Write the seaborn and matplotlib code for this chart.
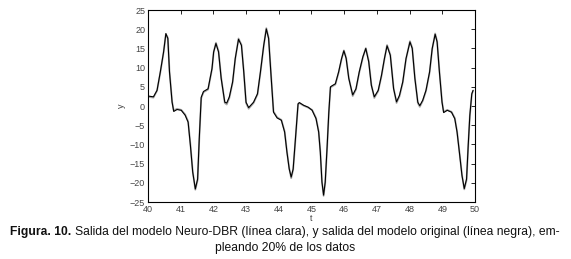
import numpy as np
import pandas as pd
import seaborn as sns
from matplotlib import pyplot as plt

# tiempo y salidas
t = [40.02, 40.17, 40.28, 40.38, 40.48, 40.55, 40.61, 40.66, 40.74, 40.79,
     40.89, 41.02, 41.14, 41.23, 41.30, 41.37, 41.45, 41.52, 41.57, 41.63,
     41.70, 41.84, 41.96, 42.01, 42.08, 42.16, 42.24, 42.35, 42.41, 42.49,
     42.59, 42.67, 42.77, 42.86, 42.93, 43.00, 43.08, 43.23, 43.35, 43.44,
     43.54, 43.62, 43.69, 43.77, 43.84, 43.95, 44.08, 44.18, 44.25, 44.32,
     44.38, 44.44, 44.51, 44.59, 44.63, 44.76, 44.90, 45.02, 45.14, 45.22,
     45.27, 45.32, 45.37, 45.42, 45.48, 45.53, 45.58, 45.63, 45.73, 45.83,
     45.92, 45.99, 46.06, 46.14, 46.26, 46.36, 46.46, 46.57, 46.66, 46.75,
     46.83, 46.92, 47.04, 47.14, 47.23, 47.31, 47.41, 47.51, 47.60, 47.69,
     47.79, 47.89, 48.01, 48.08, 48.16, 48.25, 48.31, 48.40, 48.50, 48.61,
     48.69, 48.78, 48.84, 48.91, 48.99, 49.04, 49.15, 49.28, 49.38, 49.45,
     49.52, 49.60, 49.67, 49.74, 49.79, 49.84, 49.90, 49.94]

y_original = [2.6, 2.4, 4.1, 8.9, 14.1, 18.9, 17.6, 8.9, 1.0, -1.4,
              -0.9, -1.1, -2.4, -4.2, -10.3, -17.2, -21.6, -19.0, -8.5, 2.3,
              3.8, 4.5, 9.8, 14.1, 16.3, 14.1, 7.2, 1.0, 0.8, 2.4,
              6.3, 12.4, 17.4, 15.8, 8.9, 1.0, -0.4, 1.0, 3.2, 8.9,
              15.8, 20.1, 17.6, 7.2, -1.6, -3.1, -3.7, -6.8, -12.0, -16.4,
              -18.5, -16.4, -8.5, 0.6, 0.9, 0.2, -0.3, -1.1, -3.3, -6.8,
              -12.0, -19.8, -23.2, -19.8, -10.3, -1.6, 5.0, 5.3, 5.8, 8.9,
              12.4, 14.4, 12.4, 7.2, 2.9, 4.5, 8.9, 12.8, 15.0, 11.5,
              5.4, 2.4, 4.1, 8.0, 12.4, 15.7, 13.2, 4.5, 1.1, 2.8,
              6.3, 12.4, 16.7, 15.0, 7.2, 1.0, 0.1, 1.5, 4.1, 8.9,
              15.0, 18.7, 16.7, 8.9, 1.0, -1.7, -1.1, -1.6, -3.3, -6.8,
              -12.0, -18.1, -21.5, -19.0, -10.3, -2.4, 3.2, 4.1]

y_neuro = [2.4, 2.2, 4.0, 8.7, 14.0, 18.7, 17.8, 9.2, 1.2, -1.2,
           -0.7, -1.0, -2.2, -4.0, -10.0, -17.0, -21.8, -19.3, -8.8, 2.0,
           3.6, 4.3, 9.6, 14.0, 16.5, 14.3, 7.5, 0.8, 0.4, 2.1,
           6.1, 12.2, 17.6, 16.0, 9.2, 0.8, -0.7, 0.8, 3.0, 8.7,
           15.6, 20.3, 17.8, 7.5, -1.4, -2.9, -3.6, -6.6, -11.8, -16.2,
           -18.8, -16.6, -8.8, 0.4, 0.8, 0.1, -0.4, -1.0, -3.1, -6.6,
           -11.8, -19.6, -23.4, -20.0, -10.6, -1.9, 4.8, 5.1, 5.6, 8.7,
           12.2, 14.5, 12.6, 7.4, 2.6, 4.3, 8.7, 12.6, 15.1, 11.8,
           5.6, 2.1, 3.9, 7.8, 12.2, 15.9, 13.4, 4.7, 0.8, 2.5,
           6.1, 12.2, 16.9, 15.2, 7.5, 0.8, -0.2, 1.3, 3.9, 8.7,
           14.8, 18.9, 16.9, 9.2, 1.2, -1.5, -1.0, -1.5, -3.1, -6.6,
           -11.8, -17.9, -21.7, -19.3, -10.6, -2.6, 3.0, 4.0]

x_ticks = [40, 41, 42, 43, 44, 45, 46, 47, 48, 49, 50]
y_ticks = [-25, -20, -15, -10, -5, 0, 5, 10, 15, 20, 25]

df = pd.DataFrame({"t": t, "original": y_original, "neuro": y_neuro})

sns.set_style("white")
plt.rcParams['font.family'] = ['Liberation Sans', 'DejaVu Sans']

fig = plt.figure(figsize=(5.71, 2.59), dpi=100)
ax = fig.add_axes([0.259, 0.22, 0.573, 0.741])

sns.lineplot(data=df, x="t", y="neuro", ax=ax, color="#a8a8a8", linewidth=1.3)
sns.lineplot(data=df, x="t", y="original", ax=ax, color="black", linewidth=0.8)

ax.set_xlim(40, 50)
ax.set_ylim(-25, 25)
ax.set_xticks(x_ticks)
ax.set_yticks(y_ticks)
ax.tick_params(direction="in", length=3, width=0.6, top=True, right=True,
               labelsize=6.5, labelcolor="#444444", color="black", pad=2)
for sp in ax.spines.values():
    sp.set_color("black")
    sp.set_linewidth(0.8)
ax.set_xlabel("t", fontsize=6.5, color="#444444", labelpad=0)
ax.set_ylabel("y", fontsize=6.5, color="#444444", labelpad=3)

# pie de figura
cap_y1 = 1 - 232 / 259
cap_y2 = 1 - 248 / 259
cap_size = 8.75
bold = fig.text(0.018, cap_y1, "Figura. 10.", fontsize=cap_size, fontweight="bold",
                va="center", ha="left", color="#111111")
fig.canvas.draw()
bb = bold.get_window_extent(renderer=fig.canvas.get_renderer())
x_next = (bb.x1 + 3) / fig.bbox.width
fig.text(x_next, cap_y1,
         "Salida del modelo Neuro-DBR (línea clara), y salida del modelo original (línea negra), em-",
         fontsize=cap_size, va="center", ha="left", color="#111111")
fig.text(0.5, cap_y2, "pleando 20% de los datos", fontsize=cap_size, va="center",
         ha="center", color="#111111")

fig.savefig("out.png", dpi=100)
